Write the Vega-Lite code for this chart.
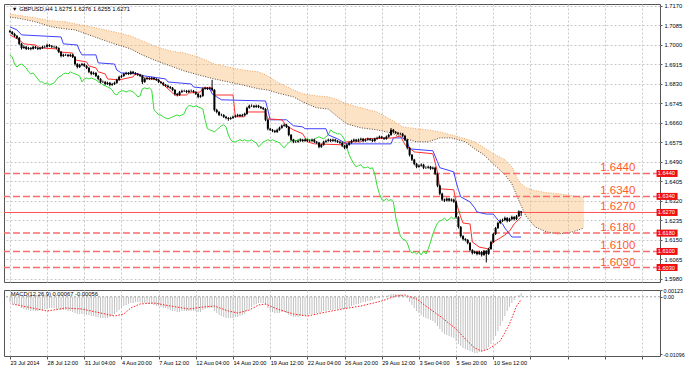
{
"$schema": "https://vega.github.io/schema/vega-lite/v6.json",
"padding": {"left": 2, "top": 2, "right": 0, "bottom": 0},
"background": "white",
"spacing": 4,
"config": {
  "view": {"stroke": "#555555", "strokeWidth": 1},
  "font": "Liberation Sans",
  "axis": {"labelFont": "Liberation Sans", "labelColor": "#000000", "gridColor": "#C8C8C8", "gridDash": [2,2], "gridWidth": 1, "domain": false, "tickColor": "#555555", "labelOverlap": false},
  "text": {"font": "Liberation Sans"}
},
"datasets": {
  "levels": [{"v":1.644,"t":"1.6440"},{"v":1.634,"t":"1.6340"},{"v":1.627,"t":"1.6270"},{"v":1.618,"t":"1.6180"},{"v":1.61,"t":"1.6100"},{"v":1.603,"t":"1.6030"}],
  "cloud": [{"i":0,"a":1.7135,"b":1.7122},{"i":5,"a":1.7127,"b":1.7114},{"i":11,"a":1.7118,"b":1.7101},{"i":18,"a":1.7105,"b":1.7079},{"i":24,"a":1.7101,"b":1.7070},{"i":28,"a":1.7092,"b":1.7066},{"i":33,"a":1.7083,"b":1.7048},{"i":39,"a":1.7070,"b":1.7026},{"i":45,"a":1.7057,"b":1.7005},{"i":52,"a":1.7039,"b":1.6983},{"i":56,"a":1.7022,"b":1.6961},{"i":62,"a":1.6996,"b":1.6935},{"i":69,"a":1.6974,"b":1.6909},{"i":75,"a":1.6965,"b":1.6887},{"i":81,"a":1.6948,"b":1.6870},{"i":88,"a":1.6917,"b":1.6852},{"i":94,"a":1.6904,"b":1.6839},{"i":100,"a":1.6891,"b":1.6826},{"i":107,"a":1.6883,"b":1.6809},{"i":111,"a":1.6865,"b":1.6804},{"i":115,"a":1.6839,"b":1.6791},{"i":122,"a":1.6804,"b":1.6774},{"i":126,"a":1.6787,"b":1.6752},{"i":132,"a":1.6778,"b":1.6726},{"i":137,"a":1.6774,"b":1.6721},{"i":141,"a":1.6761,"b":1.6687},{"i":145,"a":1.6743,"b":1.6656},{"i":151,"a":1.6726,"b":1.6639},{"i":158,"a":1.6708,"b":1.6630},{"i":164,"a":1.6674,"b":1.6617},{"i":169,"a":1.6643,"b":1.6595},{"i":175,"a":1.6635,"b":1.6578},{"i":180,"a":1.6630,"b":1.6578},{"i":185,"a":1.6621,"b":1.6595},{"i":190,"a":1.6608,"b":1.6595},{"i":196,"a":1.6591,"b":1.6578},{"i":200,"a":1.6578,"b":1.6547},{"i":204,"a":1.6552,"b":1.6521},{"i":208,"a":1.6526,"b":1.6482},{"i":213,"a":1.6500,"b":1.6435},{"i":216,"a":1.6469,"b":1.6395},{"i":219,"a":1.6404,"b":1.6322},{"i":222,"a":1.6378,"b":1.6255},{"i":226,"a":1.6365,"b":1.6207},{"i":231,"a":1.6356,"b":1.6185},{"i":236,"a":1.6352,"b":1.6176},{"i":242,"a":1.6343,"b":1.6185},{"i":247,"a":1.6335,"b":1.6202}],
  "tenkan": [{"i":0,"v":1.7044},{"i":4,"v":1.7022},{"i":6,"v":1.7005},{"i":11,"v":1.7000},{"i":13,"v":1.6987},{"i":20,"v":1.6983},{"i":21,"v":1.6970},{"i":27,"v":1.6965},{"i":28,"v":1.6935},{"i":33,"v":1.6926},{"i":34,"v":1.6909},{"i":37,"v":1.6900},{"i":38,"v":1.6883},{"i":41,"v":1.6874},{"i":42,"v":1.6852},{"i":47,"v":1.6848},{"i":53,"v":1.6861},{"i":54,"v":1.6874},{"i":56,"v":1.6870},{"i":58,"v":1.6856},{"i":64,"v":1.6848},{"i":68,"v":1.6809},{"i":71,"v":1.6782},{"i":76,"v":1.6782},{"i":77,"v":1.6791},{"i":82,"v":1.6795},{"i":83,"v":1.6813},{"i":87,"v":1.6813},{"i":88,"v":1.6782},{"i":96,"v":1.6782},{"i":97,"v":1.6687},{"i":101,"v":1.6687},{"i":102,"v":1.6708},{"i":110,"v":1.6708},{"i":111,"v":1.6678},{"i":117,"v":1.6674},{"i":119,"v":1.6648},{"i":122,"v":1.6630},{"i":126,"v":1.6613},{"i":128,"v":1.6578},{"i":131,"v":1.6569},{"i":143,"v":1.6565},{"i":145,"v":1.6578},{"i":151,"v":1.6578},{"i":153,"v":1.6591},{"i":165,"v":1.6595},{"i":168,"v":1.6604},{"i":170,"v":1.6565},{"i":174,"v":1.6534},{"i":182,"v":1.6526},{"i":184,"v":1.6447},{"i":185,"v":1.6373},{"i":191,"v":1.6369},{"i":192,"v":1.6316},{"i":194,"v":1.6250},{"i":195,"v":1.6224},{"i":198,"v":1.6220},{"i":199,"v":1.6141},{"i":202,"v":1.6119},{"i":206,"v":1.6111},{"i":208,"v":1.6141},{"i":211,"v":1.6159},{"i":213,"v":1.6172},{"i":215,"v":1.6189},{"i":217,"v":1.6220},{"i":220,"v":1.6250}],
  "kijun": [{"i":0,"v":1.7079},{"i":3,"v":1.7066},{"i":5,"v":1.7044},{"i":22,"v":1.7035},{"i":23,"v":1.7005},{"i":29,"v":1.7000},{"i":30,"v":1.6974},{"i":31,"v":1.6957},{"i":37,"v":1.6957},{"i":38,"v":1.6922},{"i":45,"v":1.6917},{"i":46,"v":1.6891},{"i":48,"v":1.6878},{"i":55,"v":1.6874},{"i":58,"v":1.6865},{"i":67,"v":1.6852},{"i":68,"v":1.6839},{"i":78,"v":1.6830},{"i":79,"v":1.6817},{"i":86,"v":1.6809},{"i":87,"v":1.6787},{"i":89,"v":1.6774},{"i":91,"v":1.6761},{"i":110,"v":1.6756},{"i":111,"v":1.6717},{"i":112,"v":1.6674},{"i":119,"v":1.6674},{"i":122,"v":1.6648},{"i":126,"v":1.6643},{"i":127,"v":1.6635},{"i":136,"v":1.6635},{"i":137,"v":1.6608},{"i":141,"v":1.6591},{"i":145,"v":1.6569},{"i":164,"v":1.6569},{"i":165,"v":1.6595},{"i":169,"v":1.6595},{"i":171,"v":1.6578},{"i":172,"v":1.6547},{"i":182,"v":1.6539},{"i":184,"v":1.6491},{"i":185,"v":1.6465},{"i":191,"v":1.6447},{"i":192,"v":1.6404},{"i":193,"v":1.6369},{"i":194,"v":1.6338},{"i":198,"v":1.6316},{"i":200,"v":1.6290},{"i":201,"v":1.6272},{"i":205,"v":1.6263},{"i":208,"v":1.6263},{"i":210,"v":1.6237},{"i":212,"v":1.6220},{"i":213,"v":1.6202},{"i":215,"v":1.6176},{"i":216,"v":1.6163},{"i":220,"v":1.6163}],
  "signal": [{"i":1,"s":-0.00137},{"i":16,"s":-0.00271},{"i":24,"s":-0.00214},{"i":31,"s":-0.00233},{"i":37,"s":-0.00290},{"i":45,"s":-0.00367},{"i":49,"s":-0.00328},{"i":52,"s":-0.00214},{"i":56,"s":-0.00137},{"i":62,"s":-0.00118},{"i":69,"s":-0.00176},{"i":77,"s":-0.00233},{"i":83,"s":-0.00195},{"i":88,"s":-0.00176},{"i":94,"s":-0.00271},{"i":98,"s":-0.00309},{"i":103,"s":-0.00252},{"i":107,"s":-0.00157},{"i":110,"s":-0.00137},{"i":115,"s":-0.00233},{"i":122,"s":-0.00328},{"i":128,"s":-0.00367},{"i":134,"s":-0.00309},{"i":143,"s":-0.00233},{"i":151,"s":-0.00176},{"i":160,"s":-0.00080},{"i":166,"s":0.00015},{"i":170,"s":0.00035},{"i":175,"s":-0.00042},{"i":179,"s":-0.00176},{"i":185,"s":-0.00367},{"i":192,"s":-0.00615},{"i":196,"s":-0.00806},{"i":200,"s":-0.00978},{"i":203,"s":-0.01035},{"i":206,"s":-0.00997},{"i":211,"s":-0.00844},{"i":215,"s":-0.00520},{"i":218,"s":-0.00176},{"i":220,"s":-0.00056}],
  "bars": [
{"i":0,"o":1.7061,"h":1.7066,"l":1.7052,"c":1.7057,"m":-0.00099,"k":1.6957},
{"i":1,"o":1.7057,"h":1.7061,"l":1.7044,"c":1.7048,"m":-0.00118,"k":1.6948},
{"i":2,"o":1.7048,"h":1.7053,"l":1.7035,"c":1.7039,"m":-0.00137,"k":1.6917},
{"i":3,"o":1.7039,"h":1.7044,"l":1.7026,"c":1.7031,"m":-0.00157,"k":1.6904},
{"i":4,"o":1.7031,"h":1.7035,"l":1.7000,"c":1.7005,"m":-0.00176,"k":1.6913},
{"i":5,"o":1.7005,"h":1.7009,"l":1.6980,"c":1.6987,"m":-0.00214,"k":1.6917},
{"i":6,"o":1.6987,"h":1.6998,"l":1.6983,"c":1.6992,"m":-0.00233,"k":1.6909},
{"i":7,"o":1.6992,"h":1.6996,"l":1.6978,"c":1.6983,"m":-0.00252,"k":1.6900},
{"i":8,"o":1.6983,"h":1.6992,"l":1.6979,"c":1.6987,"m":-0.00252,"k":1.6883},
{"i":9,"o":1.6987,"h":1.6991,"l":1.6977,"c":1.6983,"m":-0.00271,"k":1.6874},
{"i":10,"o":1.6983,"h":1.6997,"l":1.6980,"c":1.6992,"m":-0.00271,"k":1.6878},
{"i":11,"o":1.6992,"h":1.6996,"l":1.6983,"c":1.6987,"m":-0.00271,"k":1.6865},
{"i":12,"o":1.6987,"h":1.6991,"l":1.6978,"c":1.6983,"m":-0.00271,"k":1.6852},
{"i":13,"o":1.6983,"h":1.6992,"l":1.6979,"c":1.6987,"m":-0.00252,"k":1.6839},
{"i":14,"o":1.6987,"h":1.6997,"l":1.6983,"c":1.6992,"m":-0.00252,"k":1.6839},
{"i":15,"o":1.6992,"h":1.6998,"l":1.6987,"c":1.6992,"m":-0.00233,"k":1.6830},
{"i":16,"o":1.6992,"h":1.7006,"l":1.6988,"c":1.7000,"m":-0.00233,"k":1.6835},
{"i":17,"o":1.7000,"h":1.7004,"l":1.6991,"c":1.6996,"m":-0.00214,"k":1.6826},
{"i":18,"o":1.6996,"h":1.7000,"l":1.6987,"c":1.6992,"m":-0.00214,"k":1.6830},
{"i":19,"o":1.6992,"h":1.6997,"l":1.6986,"c":1.6992,"m":-0.00214,"k":1.6835},
{"i":20,"o":1.6992,"h":1.6996,"l":1.6982,"c":1.6987,"m":-0.00233,"k":1.6848},
{"i":21,"o":1.6987,"h":1.6990,"l":1.6965,"c":1.6970,"m":-0.00233,"k":1.6861},
{"i":22,"o":1.6970,"h":1.6974,"l":1.6946,"c":1.6952,"m":-0.00252,"k":1.6865},
{"i":23,"o":1.6952,"h":1.6962,"l":1.6948,"c":1.6957,"m":-0.00252,"k":1.6874},
{"i":24,"o":1.6957,"h":1.6962,"l":1.6952,"c":1.6957,"m":-0.00252,"k":1.6878},
{"i":25,"o":1.6957,"h":1.6961,"l":1.6947,"c":1.6952,"m":-0.00271,"k":1.6874},
{"i":26,"o":1.6952,"h":1.6962,"l":1.6948,"c":1.6957,"m":-0.00271,"k":1.6883},
{"i":27,"o":1.6957,"h":1.6961,"l":1.6943,"c":1.6948,"m":-0.00290,"k":1.6878},
{"i":28,"o":1.6948,"h":1.6952,"l":1.6910,"c":1.6917,"m":-0.00309,"k":1.6874},
{"i":29,"o":1.6917,"h":1.6921,"l":1.6898,"c":1.6904,"m":-0.00328,"k":1.6870},
{"i":30,"o":1.6904,"h":1.6918,"l":1.6900,"c":1.6913,"m":-0.00328,"k":1.6865},
{"i":31,"o":1.6913,"h":1.6922,"l":1.6908,"c":1.6917,"m":-0.00328,"k":1.6839},
{"i":32,"o":1.6917,"h":1.6921,"l":1.6904,"c":1.6909,"m":-0.00328,"k":1.6852},
{"i":33,"o":1.6909,"h":1.6913,"l":1.6895,"c":1.6900,"m":-0.00348,"k":1.6856},
{"i":34,"o":1.6900,"h":1.6904,"l":1.6877,"c":1.6883,"m":-0.00348,"k":1.6852},
{"i":35,"o":1.6883,"h":1.6887,"l":1.6868,"c":1.6874,"m":-0.00367,"k":1.6856},
{"i":36,"o":1.6874,"h":1.6884,"l":1.6870,"c":1.6878,"m":-0.00367,"k":1.6852},
{"i":37,"o":1.6878,"h":1.6882,"l":1.6860,"c":1.6865,"m":-0.00386,"k":1.6848},
{"i":38,"o":1.6865,"h":1.6869,"l":1.6846,"c":1.6852,"m":-0.00386,"k":1.6839},
{"i":39,"o":1.6852,"h":1.6856,"l":1.6833,"c":1.6839,"m":-0.00405,"k":1.6835},
{"i":40,"o":1.6839,"h":1.6845,"l":1.6834,"c":1.6839,"m":-0.00405,"k":1.6826},
{"i":41,"o":1.6839,"h":1.6843,"l":1.6825,"c":1.6830,"m":-0.00405,"k":1.6822},
{"i":42,"o":1.6830,"h":1.6840,"l":1.6826,"c":1.6835,"m":-0.00405,"k":1.6817},
{"i":43,"o":1.6835,"h":1.6839,"l":1.6820,"c":1.6826,"m":-0.00386,"k":1.6813},
{"i":44,"o":1.6826,"h":1.6835,"l":1.6822,"c":1.6830,"m":-0.00367,"k":1.6804},
{"i":45,"o":1.6830,"h":1.6840,"l":1.6826,"c":1.6835,"m":-0.00328,"k":1.6787},
{"i":46,"o":1.6835,"h":1.6853,"l":1.6831,"c":1.6848,"m":-0.00290,"k":1.6782},
{"i":47,"o":1.6848,"h":1.6866,"l":1.6844,"c":1.6861,"m":-0.00252,"k":1.6795},
{"i":48,"o":1.6861,"h":1.6870,"l":1.6857,"c":1.6865,"m":-0.00214,"k":1.6800},
{"i":49,"o":1.6865,"h":1.6879,"l":1.6861,"c":1.6874,"m":-0.00176,"k":1.6800},
{"i":50,"o":1.6874,"h":1.6883,"l":1.6870,"c":1.6878,"m":-0.00157,"k":1.6795},
{"i":51,"o":1.6878,"h":1.6882,"l":1.6869,"c":1.6874,"m":-0.00137,"k":1.6800},
{"i":52,"o":1.6874,"h":1.6888,"l":1.6870,"c":1.6883,"m":-0.00118,"k":1.6800},
{"i":53,"o":1.6883,"h":1.6887,"l":1.6873,"c":1.6878,"m":-0.00118,"k":1.6795},
{"i":54,"o":1.6878,"h":1.6882,"l":1.6869,"c":1.6874,"m":-0.00099,"k":1.6787},
{"i":55,"o":1.6874,"h":1.6878,"l":1.6865,"c":1.6870,"m":-0.00099,"k":1.6774},
{"i":56,"o":1.6870,"h":1.6874,"l":1.6860,"c":1.6865,"m":-0.00099,"k":1.6778},
{"i":57,"o":1.6865,"h":1.6869,"l":1.6830,"c":1.6839,"m":-0.00118,"k":1.6809},
{"i":58,"o":1.6839,"h":1.6857,"l":1.6835,"c":1.6852,"m":-0.00118,"k":1.6813},
{"i":59,"o":1.6852,"h":1.6861,"l":1.6848,"c":1.6856,"m":-0.00118,"k":1.6809},
{"i":60,"o":1.6856,"h":1.6860,"l":1.6847,"c":1.6852,"m":-0.00137,"k":1.6813},
{"i":61,"o":1.6852,"h":1.6861,"l":1.6848,"c":1.6856,"m":-0.00137,"k":1.6804},
{"i":62,"o":1.6856,"h":1.6860,"l":1.6847,"c":1.6852,"m":-0.00157,"k":1.6717},
{"i":63,"o":1.6852,"h":1.6856,"l":1.6843,"c":1.6848,"m":-0.00176,"k":1.6708},
{"i":64,"o":1.6848,"h":1.6852,"l":1.6834,"c":1.6839,"m":-0.00176,"k":1.6695},
{"i":65,"o":1.6839,"h":1.6843,"l":1.6830,"c":1.6835,"m":-0.00195,"k":1.6695},
{"i":66,"o":1.6835,"h":1.6839,"l":1.6821,"c":1.6826,"m":-0.00214,"k":1.6687},
{"i":67,"o":1.6826,"h":1.6830,"l":1.6817,"c":1.6822,"m":-0.00214,"k":1.6682},
{"i":68,"o":1.6822,"h":1.6826,"l":1.6812,"c":1.6817,"m":-0.00233,"k":1.6678},
{"i":69,"o":1.6817,"h":1.6821,"l":1.6808,"c":1.6813,"m":-0.00252,"k":1.6682},
{"i":70,"o":1.6813,"h":1.6817,"l":1.6799,"c":1.6804,"m":-0.00271,"k":1.6687},
{"i":71,"o":1.6804,"h":1.6808,"l":1.6780,"c":1.6787,"m":-0.00271,"k":1.6691},
{"i":72,"o":1.6787,"h":1.6791,"l":1.6776,"c":1.6782,"m":-0.00290,"k":1.6695},
{"i":73,"o":1.6782,"h":1.6800,"l":1.6778,"c":1.6795,"m":-0.00290,"k":1.6691},
{"i":74,"o":1.6795,"h":1.6805,"l":1.6791,"c":1.6800,"m":-0.00271,"k":1.6695},
{"i":75,"o":1.6800,"h":1.6805,"l":1.6795,"c":1.6800,"m":-0.00271,"k":1.6700},
{"i":76,"o":1.6800,"h":1.6804,"l":1.6790,"c":1.6795,"m":-0.00271,"k":1.6726},
{"i":77,"o":1.6795,"h":1.6805,"l":1.6791,"c":1.6800,"m":-0.00271,"k":1.6735},
{"i":78,"o":1.6800,"h":1.6806,"l":1.6795,"c":1.6800,"m":-0.00271,"k":1.6735},
{"i":79,"o":1.6800,"h":1.6804,"l":1.6790,"c":1.6795,"m":-0.00271,"k":1.6730},
{"i":80,"o":1.6795,"h":1.6799,"l":1.6782,"c":1.6787,"m":-0.00271,"k":1.6735},
{"i":81,"o":1.6787,"h":1.6791,"l":1.6768,"c":1.6774,"m":-0.00290,"k":1.6730},
{"i":82,"o":1.6774,"h":1.6783,"l":1.6770,"c":1.6778,"m":-0.00290,"k":1.6726},
{"i":83,"o":1.6778,"h":1.6814,"l":1.6774,"c":1.6809,"m":-0.00252,"k":1.6721},
{"i":84,"o":1.6809,"h":1.6818,"l":1.6805,"c":1.6813,"m":-0.00233,"k":1.6674},
{"i":85,"o":1.6813,"h":1.6817,"l":1.6804,"c":1.6809,"m":-0.00214,"k":1.6635},
{"i":86,"o":1.6809,"h":1.6818,"l":1.6805,"c":1.6813,"m":-0.00214,"k":1.6630},
{"i":87,"o":1.6813,"h":1.6848,"l":1.6799,"c":1.6804,"m":-0.00214,"k":1.6626},
{"i":88,"o":1.6804,"h":1.6808,"l":1.6710,"c":1.6717,"m":-0.00271,"k":1.6621},
{"i":89,"o":1.6717,"h":1.6722,"l":1.6702,"c":1.6708,"m":-0.00309,"k":1.6630},
{"i":90,"o":1.6708,"h":1.6712,"l":1.6690,"c":1.6695,"m":-0.00348,"k":1.6639},
{"i":91,"o":1.6695,"h":1.6701,"l":1.6690,"c":1.6695,"m":-0.00367,"k":1.6648},
{"i":92,"o":1.6695,"h":1.6699,"l":1.6682,"c":1.6687,"m":-0.00386,"k":1.6652},
{"i":93,"o":1.6687,"h":1.6691,"l":1.6676,"c":1.6682,"m":-0.00405,"k":1.6643},
{"i":94,"o":1.6682,"h":1.6686,"l":1.6670,"c":1.6678,"m":-0.00405,"k":1.6608},
{"i":95,"o":1.6678,"h":1.6687,"l":1.6674,"c":1.6682,"m":-0.00405,"k":1.6587},
{"i":96,"o":1.6682,"h":1.6692,"l":1.6678,"c":1.6687,"m":-0.00405,"k":1.6578},
{"i":97,"o":1.6687,"h":1.6696,"l":1.6683,"c":1.6691,"m":-0.00386,"k":1.6578},
{"i":98,"o":1.6691,"h":1.6700,"l":1.6687,"c":1.6695,"m":-0.00386,"k":1.6582},
{"i":99,"o":1.6695,"h":1.6699,"l":1.6686,"c":1.6691,"m":-0.00367,"k":1.6587},
{"i":100,"o":1.6691,"h":1.6700,"l":1.6687,"c":1.6695,"m":-0.00348,"k":1.6582},
{"i":101,"o":1.6695,"h":1.6705,"l":1.6691,"c":1.6700,"m":-0.00328,"k":1.6587},
{"i":102,"o":1.6700,"h":1.6731,"l":1.6696,"c":1.6726,"m":-0.00271,"k":1.6582},
{"i":103,"o":1.6726,"h":1.6740,"l":1.6722,"c":1.6735,"m":-0.00233,"k":1.6582},
{"i":104,"o":1.6735,"h":1.6741,"l":1.6730,"c":1.6735,"m":-0.00195,"k":1.6587},
{"i":105,"o":1.6735,"h":1.6739,"l":1.6725,"c":1.6730,"m":-0.00157,"k":1.6578},
{"i":106,"o":1.6730,"h":1.6740,"l":1.6726,"c":1.6735,"m":-0.00137,"k":1.6574},
{"i":107,"o":1.6735,"h":1.6739,"l":1.6725,"c":1.6730,"m":-0.00118,"k":1.6556},
{"i":108,"o":1.6730,"h":1.6734,"l":1.6721,"c":1.6726,"m":-0.00118,"k":1.6565},
{"i":109,"o":1.6726,"h":1.6730,"l":1.6716,"c":1.6721,"m":-0.00118,"k":1.6578},
{"i":110,"o":1.6721,"h":1.6725,"l":1.6668,"c":1.6674,"m":-0.00157,"k":1.6582},
{"i":111,"o":1.6674,"h":1.6678,"l":1.6628,"c":1.6635,"m":-0.00214,"k":1.6587},
{"i":112,"o":1.6635,"h":1.6639,"l":1.6625,"c":1.6630,"m":-0.00271,"k":1.6582},
{"i":113,"o":1.6630,"h":1.6634,"l":1.6620,"c":1.6626,"m":-0.00290,"k":1.6587},
{"i":114,"o":1.6626,"h":1.6630,"l":1.6616,"c":1.6621,"m":-0.00309,"k":1.6582},
{"i":115,"o":1.6621,"h":1.6635,"l":1.6617,"c":1.6630,"m":-0.00309,"k":1.6578},
{"i":116,"o":1.6630,"h":1.6644,"l":1.6626,"c":1.6639,"m":-0.00309,"k":1.6574},
{"i":117,"o":1.6639,"h":1.6653,"l":1.6635,"c":1.6648,"m":-0.00290,"k":1.6561},
{"i":118,"o":1.6648,"h":1.6657,"l":1.6644,"c":1.6652,"m":-0.00290,"k":1.6552},
{"i":119,"o":1.6652,"h":1.6656,"l":1.6638,"c":1.6643,"m":-0.00309,"k":1.6565},
{"i":120,"o":1.6643,"h":1.6647,"l":1.6602,"c":1.6608,"m":-0.00348,"k":1.6574},
{"i":121,"o":1.6608,"h":1.6612,"l":1.6581,"c":1.6587,"m":-0.00367,"k":1.6582},
{"i":122,"o":1.6587,"h":1.6591,"l":1.6572,"c":1.6578,"m":-0.00386,"k":1.6587},
{"i":123,"o":1.6578,"h":1.6584,"l":1.6573,"c":1.6578,"m":-0.00386,"k":1.6582},
{"i":124,"o":1.6578,"h":1.6587,"l":1.6574,"c":1.6582,"m":-0.00386,"k":1.6587},
{"i":125,"o":1.6582,"h":1.6592,"l":1.6578,"c":1.6587,"m":-0.00367,"k":1.6591},
{"i":126,"o":1.6587,"h":1.6591,"l":1.6577,"c":1.6582,"m":-0.00367,"k":1.6582},
{"i":127,"o":1.6582,"h":1.6592,"l":1.6578,"c":1.6587,"m":-0.00348,"k":1.6587},
{"i":128,"o":1.6587,"h":1.6591,"l":1.6577,"c":1.6582,"m":-0.00348,"k":1.6591},
{"i":129,"o":1.6582,"h":1.6588,"l":1.6577,"c":1.6582,"m":-0.00328,"k":1.6587},
{"i":130,"o":1.6582,"h":1.6592,"l":1.6578,"c":1.6587,"m":-0.00328,"k":1.6582},
{"i":131,"o":1.6587,"h":1.6591,"l":1.6573,"c":1.6578,"m":-0.00328,"k":1.6591},
{"i":132,"o":1.6578,"h":1.6582,"l":1.6569,"c":1.6574,"m":-0.00309,"k":1.6595},
{"i":133,"o":1.6574,"h":1.6578,"l":1.6550,"c":1.6556,"m":-0.00309,"k":1.6600},
{"i":134,"o":1.6556,"h":1.6570,"l":1.6552,"c":1.6565,"m":-0.00290,"k":1.6595},
{"i":135,"o":1.6565,"h":1.6583,"l":1.6561,"c":1.6578,"m":-0.00271,"k":1.6591},
{"i":136,"o":1.6578,"h":1.6587,"l":1.6574,"c":1.6582,"m":-0.00271,"k":1.6600},
{"i":137,"o":1.6582,"h":1.6592,"l":1.6578,"c":1.6587,"m":-0.00252,"k":1.6608},
{"i":138,"o":1.6587,"h":1.6591,"l":1.6577,"c":1.6582,"m":-0.00252,"k":1.6630},
{"i":139,"o":1.6582,"h":1.6592,"l":1.6578,"c":1.6587,"m":-0.00252,"k":1.6621},
{"i":140,"o":1.6587,"h":1.6591,"l":1.6577,"c":1.6582,"m":-0.00233,"k":1.6617},
{"i":141,"o":1.6582,"h":1.6586,"l":1.6573,"c":1.6578,"m":-0.00233,"k":1.6613},
{"i":142,"o":1.6578,"h":1.6582,"l":1.6569,"c":1.6574,"m":-0.00233,"k":1.6613},
{"i":143,"o":1.6574,"h":1.6578,"l":1.6555,"c":1.6561,"m":-0.00233,"k":1.6604},
{"i":144,"o":1.6561,"h":1.6565,"l":1.6546,"c":1.6552,"m":-0.00233,"k":1.6587},
{"i":145,"o":1.6552,"h":1.6570,"l":1.6548,"c":1.6565,"m":-0.00214,"k":1.6552},
{"i":146,"o":1.6565,"h":1.6579,"l":1.6561,"c":1.6574,"m":-0.00195,"k":1.6521},
{"i":147,"o":1.6574,"h":1.6587,"l":1.6570,"c":1.6582,"m":-0.00176,"k":1.6500},
{"i":148,"o":1.6582,"h":1.6592,"l":1.6578,"c":1.6587,"m":-0.00157,"k":1.6482},
{"i":149,"o":1.6587,"h":1.6591,"l":1.6577,"c":1.6582,"m":-0.00137,"k":1.6469},
{"i":150,"o":1.6582,"h":1.6592,"l":1.6578,"c":1.6587,"m":-0.00137,"k":1.6474},
{"i":151,"o":1.6587,"h":1.6596,"l":1.6583,"c":1.6591,"m":-0.00118,"k":1.6478},
{"i":152,"o":1.6591,"h":1.6595,"l":1.6577,"c":1.6582,"m":-0.00099,"k":1.6465},
{"i":153,"o":1.6582,"h":1.6592,"l":1.6578,"c":1.6587,"m":-0.00099,"k":1.6465},
{"i":154,"o":1.6587,"h":1.6596,"l":1.6583,"c":1.6591,"m":-0.00080,"k":1.6469},
{"i":155,"o":1.6591,"h":1.6595,"l":1.6582,"c":1.6587,"m":-0.00080,"k":1.6461},
{"i":156,"o":1.6587,"h":1.6591,"l":1.6577,"c":1.6582,"m":-0.00061,"k":1.6465},
{"i":157,"o":1.6582,"h":1.6596,"l":1.6578,"c":1.6591,"m":-0.00042,"k":1.6439},
{"i":158,"o":1.6591,"h":1.6600,"l":1.6587,"c":1.6595,"m":-0.00023,"k":1.6387},
{"i":159,"o":1.6595,"h":1.6605,"l":1.6591,"c":1.6600,"m":-0.00023,"k":1.6352},
{"i":160,"o":1.6600,"h":1.6604,"l":1.6590,"c":1.6595,"m":-0.00004,"k":1.6326},
{"i":161,"o":1.6595,"h":1.6599,"l":1.6586,"c":1.6591,"m":-0.00004,"k":1.6322},
{"i":162,"o":1.6591,"h":1.6605,"l":1.6587,"c":1.6600,"m":0.00015,"k":1.6330},
{"i":163,"o":1.6600,"h":1.6613,"l":1.6596,"c":1.6608,"m":0.00035,"k":1.6322},
{"i":164,"o":1.6608,"h":1.6638,"l":1.6604,"c":1.6630,"m":0.00054,"k":1.6326},
{"i":165,"o":1.6630,"h":1.6634,"l":1.6616,"c":1.6621,"m":0.00054,"k":1.6317},
{"i":166,"o":1.6621,"h":1.6625,"l":1.6612,"c":1.6617,"m":0.00054,"k":1.6250},
{"i":167,"o":1.6617,"h":1.6621,"l":1.6608,"c":1.6613,"m":0.00054,"k":1.6207},
{"i":168,"o":1.6613,"h":1.6618,"l":1.6608,"c":1.6613,"m":0.00054,"k":1.6167},
{"i":169,"o":1.6613,"h":1.6617,"l":1.6599,"c":1.6604,"m":0.00035,"k":1.6154},
{"i":170,"o":1.6604,"h":1.6608,"l":1.6581,"c":1.6587,"m":0.00015,"k":1.6150},
{"i":171,"o":1.6587,"h":1.6591,"l":1.6545,"c":1.6552,"m":-0.00023,"k":1.6137},
{"i":172,"o":1.6552,"h":1.6556,"l":1.6514,"c":1.6521,"m":-0.00099,"k":1.6106},
{"i":173,"o":1.6521,"h":1.6525,"l":1.6494,"c":1.6500,"m":-0.00157,"k":1.6093},
{"i":174,"o":1.6500,"h":1.6504,"l":1.6476,"c":1.6482,"m":-0.00214,"k":1.6098},
{"i":175,"o":1.6482,"h":1.6486,"l":1.6463,"c":1.6469,"m":-0.00271,"k":1.6089},
{"i":176,"o":1.6469,"h":1.6479,"l":1.6465,"c":1.6474,"m":-0.00309,"k":1.6098},
{"i":177,"o":1.6474,"h":1.6484,"l":1.6470,"c":1.6478,"m":-0.00348,"k":1.6085},
{"i":178,"o":1.6478,"h":1.6482,"l":1.6459,"c":1.6465,"m":-0.00386,"k":1.6102},
{"i":179,"o":1.6465,"h":1.6471,"l":1.6460,"c":1.6465,"m":-0.00405,"k":1.6089},
{"i":180,"o":1.6465,"h":1.6474,"l":1.6461,"c":1.6469,"m":-0.00424,"k":1.6111},
{"i":181,"o":1.6469,"h":1.6473,"l":1.6456,"c":1.6461,"m":-0.00443,"k":1.6141},
{"i":182,"o":1.6461,"h":1.6470,"l":1.6457,"c":1.6465,"m":-0.00462,"k":1.6176},
{"i":183,"o":1.6465,"h":1.6469,"l":1.6433,"c":1.6439,"m":-0.00500,"k":1.6202},
{"i":184,"o":1.6439,"h":1.6443,"l":1.6380,"c":1.6387,"m":-0.00558,"k":1.6224},
{"i":185,"o":1.6387,"h":1.6391,"l":1.6345,"c":1.6352,"m":-0.00615,"k":1.6233},
{"i":186,"o":1.6352,"h":1.6356,"l":1.6320,"c":1.6326,"m":-0.00672,"k":1.6237},
{"i":187,"o":1.6326,"h":1.6330,"l":1.6316,"c":1.6322,"m":-0.00710,"k":1.6246},
{"i":188,"o":1.6322,"h":1.6335,"l":1.6318,"c":1.6330,"m":-0.00730,"k":1.6233},
{"i":189,"o":1.6330,"h":1.6334,"l":1.6317,"c":1.6322,"m":-0.00749,"k":1.6241},
{"i":190,"o":1.6322,"h":1.6331,"l":1.6318,"c":1.6326,"m":-0.00768,"k":1.6250},
{"i":191,"o":1.6326,"h":1.6330,"l":1.6312,"c":1.6317,"m":-0.00787,"k":1.6241},
{"i":192,"o":1.6317,"h":1.6321,"l":1.6243,"c":1.6250,"m":-0.00844,"k":1.6254},
{"i":193,"o":1.6250,"h":1.6254,"l":1.6200,"c":1.6207,"m":-0.00901,"k":1.6275},
{"i":194,"o":1.6207,"h":1.6211,"l":1.6160,"c":1.6167,"m":-0.00940,"k":1.6271},
{"i":195,"o":1.6167,"h":1.6171,"l":1.6148,"c":1.6154,"m":-0.00978},
{"i":196,"o":1.6154,"h":1.6158,"l":1.6144,"c":1.6150,"m":-0.00997},
{"i":197,"o":1.6150,"h":1.6154,"l":1.6131,"c":1.6137,"m":-0.01016},
{"i":198,"o":1.6137,"h":1.6141,"l":1.6100,"c":1.6106,"m":-0.01035},
{"i":199,"o":1.6106,"h":1.6110,"l":1.6087,"c":1.6093,"m":-0.01054},
{"i":200,"o":1.6093,"h":1.6103,"l":1.6089,"c":1.6098,"m":-0.01073},
{"i":201,"o":1.6098,"h":1.6102,"l":1.6083,"c":1.6089,"m":-0.01073},
{"i":202,"o":1.6089,"h":1.6103,"l":1.6085,"c":1.6098,"m":-0.01054},
{"i":203,"o":1.6098,"h":1.6102,"l":1.6078,"c":1.6085,"m":-0.01054},
{"i":204,"o":1.6085,"h":1.6107,"l":1.6081,"c":1.6102,"m":-0.01035},
{"i":205,"o":1.6102,"h":1.6106,"l":1.6052,"c":1.6089,"m":-0.00997},
{"i":206,"o":1.6089,"h":1.6116,"l":1.6085,"c":1.6111,"m":-0.00959},
{"i":207,"o":1.6111,"h":1.6146,"l":1.6107,"c":1.6141,"m":-0.00901},
{"i":208,"o":1.6141,"h":1.6181,"l":1.6137,"c":1.6176,"m":-0.00825},
{"i":209,"o":1.6176,"h":1.6207,"l":1.6172,"c":1.6202,"m":-0.00749},
{"i":210,"o":1.6202,"h":1.6230,"l":1.6198,"c":1.6224,"m":-0.00653},
{"i":211,"o":1.6224,"h":1.6240,"l":1.6219,"c":1.6233,"m":-0.00558},
{"i":212,"o":1.6233,"h":1.6243,"l":1.6228,"c":1.6237,"m":-0.00462},
{"i":213,"o":1.6237,"h":1.6252,"l":1.6232,"c":1.6246,"m":-0.00367},
{"i":214,"o":1.6246,"h":1.6250,"l":1.6227,"c":1.6233,"m":-0.00271},
{"i":215,"o":1.6233,"h":1.6247,"l":1.6229,"c":1.6241,"m":-0.00195},
{"i":216,"o":1.6241,"h":1.6256,"l":1.6236,"c":1.6250,"m":-0.00118},
{"i":217,"o":1.6250,"h":1.6254,"l":1.6235,"c":1.6241,"m":-0.00061},
{"i":218,"o":1.6241,"h":1.6259,"l":1.6237,"c":1.6254,"m":-0.00004},
{"i":219,"o":1.6254,"h":1.6279,"l":1.6250,"c":1.6275,"m":0.00035},
{"i":220,"o":1.6275,"h":1.6276,"l":1.6255,"c":1.6271,"m":0.00067}
  ]
},
"vconcat": [
  {
    "width": 656, "height": 278,
    "layer": [
      {"data": {"name": "cloud"}, "mark": {"type": "area", "color": "#FBB970", "opacity": 0.4},
       "encoding": {
         "x": {"field": "i", "type": "quantitative", "scale": {"domain": [-0.4, 277.6], "nice": false, "zero": false},
               "axis": {"values": [0,16,32,48,64,80,96,112,128,144,160,176,192,208,224,240,256,272], "tickCount": 100, "labels": false, "ticks": false, "grid": true, "title": null}},
         "y": {"field": "a", "type": "quantitative", "scale": {"domain": [1.59669, 1.71787], "nice": false, "zero": false},
               "axis": {"orient": "right", "values": [1.598,1.6065,1.615,1.6235,1.632,1.6405,1.649,1.6575,1.666,1.6745,1.683,1.6915,1.7,1.7085,1.717], "tickCount": 100, "format": ".4f", "labelFontSize": 5.8, "tickSize": 2, "labelPadding": 2, "grid": true, "labelOverlap": false, "title": null}},
         "y2": {"field": "b"}}},
      {"data": {"name": "cloud"}, "mark": {"type": "line", "color": "#F4A460", "strokeDash": [1, 1.5], "strokeWidth": 1},
       "encoding": {"x": {"field": "i", "type": "quantitative", "scale": {"domain": [-0.4, 277.6], "nice": false, "zero": false}},
                    "y": {"field": "a", "type": "quantitative", "scale": {"domain": [1.59669, 1.71787], "nice": false, "zero": false}}}},
      {"data": {"name": "cloud"}, "mark": {"type": "line", "color": "#5C4A3A", "strokeDash": [1, 1.5], "strokeWidth": 1},
       "encoding": {"x": {"field": "i", "type": "quantitative", "scale": {"domain": [-0.4, 277.6], "nice": false, "zero": false}},
                    "y": {"field": "b", "type": "quantitative", "scale": {"domain": [1.59669, 1.71787], "nice": false, "zero": false}}}},
      {"data": {"name": "levels"}, "transform": [{"filter": "datum.v != 1.627"}],
       "mark": {"type": "rule", "color": "#FF6A6A", "strokeWidth": 1.5, "strokeDash": [7, 3]},
       "encoding": {"y": {"field": "v", "type": "quantitative", "scale": {"domain": [1.59669, 1.71787], "nice": false, "zero": false}}}},
      {"data": {"name": "levels"}, "transform": [{"filter": "datum.v == 1.627"}],
       "mark": {"type": "rule", "color": "#FF5050", "strokeWidth": 1},
       "encoding": {"y": {"field": "v", "type": "quantitative", "scale": {"domain": [1.59669, 1.71787], "nice": false, "zero": false}}}},
      {"data": {"name": "bars"}, "mark": {"type": "line", "color": "#33DD33", "strokeWidth": 1},
       "encoding": {"x": {"field": "i", "type": "quantitative", "scale": {"domain": [-0.4, 277.6], "nice": false, "zero": false}},
                    "y": {"field": "k", "type": "quantitative", "scale": {"domain": [1.59669, 1.71787], "nice": false, "zero": false}}}},
      {"data": {"name": "kijun"}, "mark": {"type": "line", "color": "#4040FF", "strokeWidth": 1},
       "encoding": {"x": {"field": "i", "type": "quantitative", "scale": {"domain": [-0.4, 277.6], "nice": false, "zero": false}},
                    "y": {"field": "v", "type": "quantitative", "scale": {"domain": [1.59669, 1.71787], "nice": false, "zero": false}}}},
      {"data": {"name": "tenkan"}, "mark": {"type": "line", "color": "#FF3030", "strokeWidth": 1},
       "encoding": {"x": {"field": "i", "type": "quantitative", "scale": {"domain": [-0.4, 277.6], "nice": false, "zero": false}},
                    "y": {"field": "v", "type": "quantitative", "scale": {"domain": [1.59669, 1.71787], "nice": false, "zero": false}}}},
      {"data": {"name": "bars"}, "mark": {"type": "rule", "color": "#000000", "strokeWidth": 1},
       "encoding": {"x": {"field": "i", "type": "quantitative", "scale": {"domain": [-0.4, 277.6], "nice": false, "zero": false}},
                    "y": {"field": "l", "type": "quantitative", "scale": {"domain": [1.59669, 1.71787], "nice": false, "zero": false}},
                    "y2": {"field": "h"}}},
      {"data": {"name": "bars"}, "mark": {"type": "bar", "color": "#000000", "size": 2},
       "encoding": {"x": {"field": "i", "type": "quantitative", "scale": {"domain": [-0.4, 277.6], "nice": false, "zero": false}},
                    "y": {"field": "o", "type": "quantitative", "scale": {"domain": [1.59669, 1.71787], "nice": false, "zero": false}},
                    "y2": {"field": "c"}}},
      {"data": {"name": "levels"}, "mark": {"type": "text", "align": "left", "baseline": "alphabetic", "dy": -2, "fontSize": 11.5, "color": "#FF5A1F"},
       "encoding": {"x": {"datum": 254, "type": "quantitative", "scale": {"domain": [-0.4, 277.6], "nice": false, "zero": false}},
                    "y": {"field": "v", "type": "quantitative", "scale": {"domain": [1.59669, 1.71787], "nice": false, "zero": false}},
                    "text": {"field": "t"}}},
      {"data": {"name": "levels"}, "mark": {"type": "tick", "orient": "horizontal", "size": 21, "thickness": 7, "color": "#F01010", "opacity": 1},
       "encoding": {"x": {"datum": 282.8, "type": "quantitative", "scale": {"domain": [-0.4, 277.6], "nice": false, "zero": false}},
                    "y": {"field": "v", "type": "quantitative", "scale": {"domain": [1.59669, 1.71787], "nice": false, "zero": false}}}},
      {"data": {"name": "levels"}, "mark": {"type": "text", "align": "left", "baseline": "middle", "fontSize": 5.6, "color": "#FFFFFF"},
       "encoding": {"x": {"datum": 278.8, "type": "quantitative", "scale": {"domain": [-0.4, 277.6], "nice": false, "zero": false}},
                    "y": {"field": "v", "type": "quantitative", "scale": {"domain": [1.59669, 1.71787], "nice": false, "zero": false}},
                    "text": {"field": "t"}}},
      {"data": {"values": [{}]}, "mark": {"type": "text", "text": "▼ GBPUSD,H4  1.6275 1.6276 1.6255 1.6271", "align": "left", "baseline": "middle", "fontSize": 5.8, "color": "#000000"},
       "encoding": {"x": {"datum": 0.8, "type": "quantitative", "scale": {"domain": [-0.4, 277.6], "nice": false, "zero": false}},
                    "y": {"datum": 1.7157, "type": "quantitative", "scale": {"domain": [1.59669, 1.71787], "nice": false, "zero": false}}}}
    ]
  },
  {
    "width": 656, "height": 66,
    "layer": [
      {"data": {"name": "bars"}, "mark": {"type": "bar", "color": "#C0C0C0", "size": 1},
       "encoding": {
         "x": {"field": "i", "type": "quantitative", "scale": {"domain": [-0.4, 277.6], "nice": false, "zero": false},
               "axis": {"values": [0,16,32,48,64,80,96,112,128,144,160,176,192,208,224,240,256,272], "tickCount": 100,
                        "labelExpr": "datum.value <= 208 ? ['23 Jul 2014','28 Jul 12:00','31 Jul 04:00','4 Aug 20:00','7 Aug 12:00','12 Aug 04:00','14 Aug 20:00','19 Aug 12:00','22 Aug 04:00','26 Aug 20:00','29 Aug 12:00','3 Sep 04:00','5 Sep 20:00','10 Sep 12:00'][datum.value/16] : ''",
                        "labelAlign": "left", "labelBaseline": "top", "labelFontSize": 5.6, "labelPadding": 1, "tickSize": 3, "grid": true, "labelOverlap": false, "labelFlush": false, "labelBound": false, "title": null}},
         "y": {"field": "m", "type": "quantitative", "scale": {"domain": [-0.0113, 0.0013], "nice": false, "zero": false},
               "axis": {"orient": "right", "values": [0.00123, 0, -0.01096], "tickCount": 100,
                        "labelExpr": "datum.value == 0 ? '0.00' : (datum.value < 0 ? '-' + format(-datum.value, '.5f') : format(datum.value, '.5f'))",
                        "labelFontSize": 5.4, "tickSize": 2, "labelPadding": 1, "grid": false, "labelOverlap": false, "title": null}},
         "y2": {"datum": 0}}},
      {"data": {"values": [{}]}, "mark": {"type": "rule", "color": "#A0A0A0", "strokeDash": [2, 2], "strokeWidth": 1},
       "encoding": {"y": {"datum": 0, "type": "quantitative", "scale": {"domain": [-0.0113, 0.0013], "nice": false, "zero": false}}}},
      {"data": {"name": "signal"}, "mark": {"type": "line", "color": "#FF2020", "strokeDash": [1.5, 1.5], "strokeWidth": 1},
       "encoding": {"x": {"field": "i", "type": "quantitative", "scale": {"domain": [-0.4, 277.6], "nice": false, "zero": false}},
                    "y": {"field": "s", "type": "quantitative", "scale": {"domain": [-0.0113, 0.0013], "nice": false, "zero": false}}}},
      {"data": {"values": [{}]}, "mark": {"type": "text", "text": "MACD(12,26,9) 0.00067 -0.00056", "align": "left", "baseline": "middle", "fontSize": 5.8, "color": "#000000"},
       "encoding": {"x": {"datum": 0.3, "type": "quantitative", "scale": {"domain": [-0.4, 277.6], "nice": false, "zero": false}},
                    "y": {"datum": 0.00054, "type": "quantitative", "scale": {"domain": [-0.0113, 0.0013], "nice": false, "zero": false}}}}
    ]
  }
]
}
